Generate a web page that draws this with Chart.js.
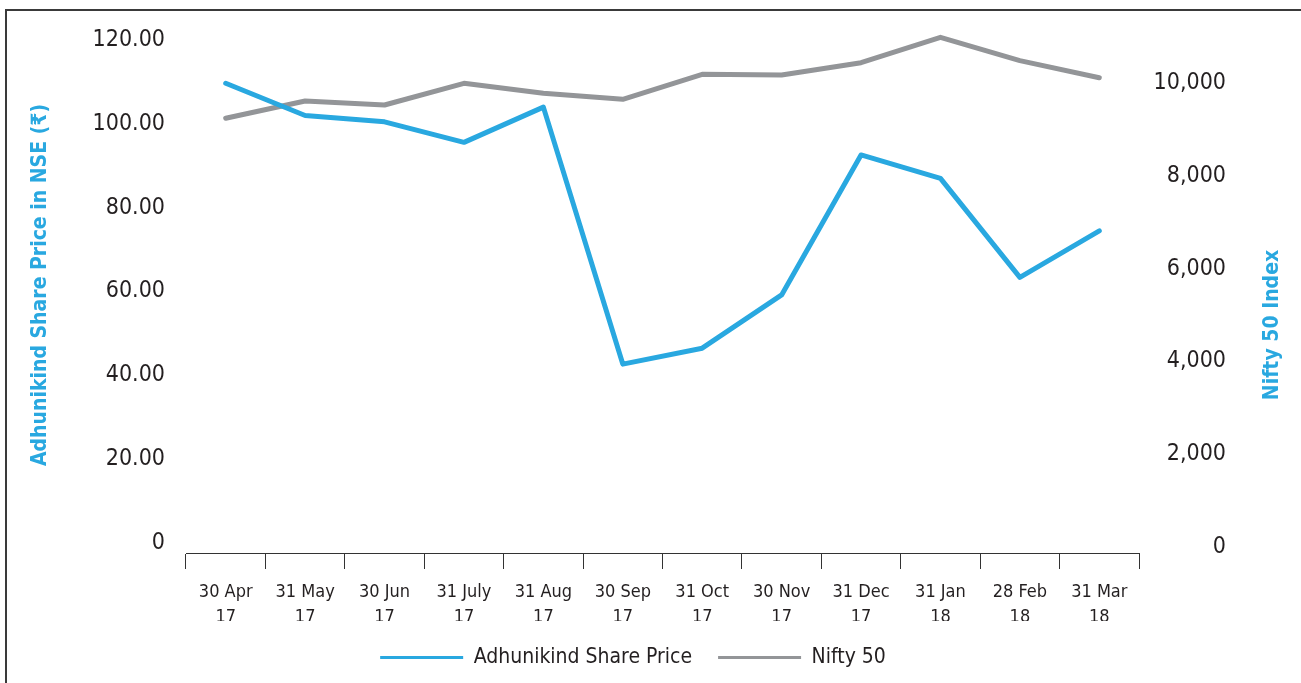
<!DOCTYPE html>
<html>
<head>
<meta charset="utf-8">
<script src="https://cdn.jsdelivr.net/npm/chart.js@4/dist/chart.umd.min.js"></script>
<style>
  body { margin: 0; background: #fff; }
  #wrap { position: relative; width: 1301px; height: 683px; }
  #frame { position: absolute; left: 5px; top: 9px; width: 1400px; height: 800px;
           border-left: 2px solid #3a3a3a; border-top: 2px solid #3a3a3a; pointer-events: none; }
</style>
</head>
<body>
<div id="wrap">
  <canvas id="shareChart" width="1301" height="683"></canvas>
  <div id="frame"></div>
</div>
<script>
// donnees
const months = [
  ["30 Apr", "17"], ["31 May", "17"], ["30 Jun", "17"], ["31 July", "17"],
  ["31 Aug", "17"], ["30 Sep", "17"], ["31 Oct", "17"], ["30 Nov", "17"],
  ["31 Dec", "17"], ["31 Jan", "18"], ["28 Feb", "18"], ["31 Mar", "18"]
];
const sharePrice = [109.2, 101.5, 100.0, 95.1, 103.5, 42.2, 46.0, 58.7, 92.1, 86.5, 62.9, 74.0];
const nifty50 = [9196, 9569, 9483, 9950, 9735, 9606, 10144, 10129, 10394, 10942, 10438, 10071];
const leftTicks = [0, 20, 40, 60, 80, 100, 120];
const rightTicks = [0, 2000, 4000, 6000, 8000, 10000];

const BLUE = "#29a8e0";
const GREY = "#939598";
const INK = "#231f20";
const FONT = "'DejaVu Sans Condensed', 'Liberation Sans Narrow', sans-serif";

// titres des axes (lus de bas en haut des deux cotes)
const axisTitles = {
  id: "axisTitles",
  afterDraw(chart) {
    const c = chart.ctx;
    c.save();
    c.fillStyle = BLUE;
    c.font = "bold 21px " + FONT;
    c.textAlign = "center";
    c.textBaseline = "middle";
    [["Adhunikind Share Price in NSE (\u20b9)", 41, 285], ["Nifty 50 Index", 1273, 325]].forEach(([t, x, y]) => {
      c.save();
      c.translate(x, y);
      c.rotate(-Math.PI / 2);
      c.fillText(t, 0, 0);
      c.restore();
    });
    c.restore();
  }
};

const ctx = document.getElementById("shareChart").getContext("2d");

new Chart(ctx, {
  type: "line",
  data: {
    labels: months,
    datasets: [
      {
        label: "Adhunikind Share Price",
        data: sharePrice,
        borderColor: BLUE,
        backgroundColor: BLUE,
        borderWidth: 5,
        pointRadius: 0,
        tension: 0,
        borderCapStyle: "round",
        borderJoinStyle: "round",
        yAxisID: "y",
      },
      {
        label: "Nifty 50",
        data: nifty50,
        borderColor: GREY,
        backgroundColor: GREY,
        borderWidth: 5,
        pointRadius: 0,
        tension: 0,
        borderCapStyle: "round",
        borderJoinStyle: "round",
        yAxisID: "y1",
      },
    ],
  },
  options: {
    responsive: false,
    animation: false,
    layout: { padding: { top: 30, left: 40, right: 75, bottom: 5 } },
    plugins: {
      tooltip: { enabled: false },
      legend: {
        position: "bottom",
        labels: {
          font: { family: FONT, size: 21 },
          color: INK,
          boxWidth: 83,
          boxHeight: 3,
          padding: 26,
          generateLabels(chart) {
            return chart.data.datasets.map((ds, i) => ({
              text: ds.label,
              fillStyle: ds.borderColor,
              strokeStyle: ds.borderColor,
              lineWidth: 0,
              fontColor: INK,
              datasetIndex: i,
            }));
          },
        },
      },
    },
    scales: {
      x: {
        offset: true,
        grid: {
          display: true,
          offset: true,
          drawOnChartArea: false,
          drawTicks: true,
          tickLength: 16,
          color: "#333",
        },
        border: { display: true, color: "#333", width: 1 },
        ticks: {
          autoSkip: false,
          maxRotation: 0,
          padding: 11,
          color: INK,
          font: { family: FONT, size: 18, lineHeight: 25 / 18 },
        },
        afterFit(s) { s.height = 68; },
      },
      y: {
        position: "left",
        min: -2.86,
        max: 121.9,
        grid: { display: false, drawTicks: false },
        border: { display: false },
        afterBuildTicks(s) { s.ticks = leftTicks.map(v => ({ value: v })); },
        ticks: {
          padding: 21,
          labelOffset: 2,
          color: INK,
          font: { family: FONT, size: 23 },
          callback: (v) => (v === 0 ? "0" : v.toFixed(2)),
        },
        afterFit(s) { s.width = 146; s.paddingTop = 0; s.paddingBottom = 0; },
      },
      y1: {
        position: "right",
        min: -172,
        max: 11099,
        grid: { display: false, drawTicks: false },
        border: { display: false },
        afterBuildTicks(s) { s.ticks = rightTicks.map(v => ({ value: v })); },
        ticks: {
          crossAlign: "far",
          padding: 10,
          labelOffset: 2,
          color: INK,
          font: { family: FONT, size: 23 },
          callback: (v) => v.toLocaleString("en-US"),
        },
        afterFit(s) { s.width = 87; s.paddingTop = 0; s.paddingBottom = 0; },
      },
    },
  },
  plugins: [axisTitles],
});
</script>
</body>
</html>
